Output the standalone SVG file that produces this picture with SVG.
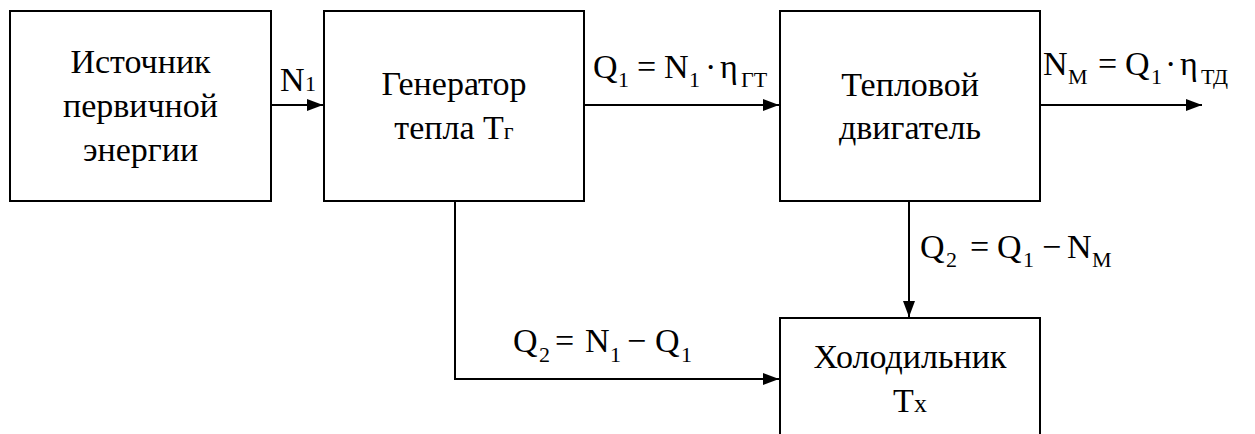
<svg xmlns="http://www.w3.org/2000/svg" width="1255" height="434" viewBox="0 0 1255 434">
<style>
.box{fill:#fff;stroke:#000;stroke-width:2}
.ln{fill:none;stroke:#000;stroke-width:2}
text{font-family:"Liberation Serif","Times New Roman","DejaVu Serif",serif;fill:#000;font-size:34px}
.c{text-anchor:middle}
.s{font-size:22px}
</style>
<defs>
<marker id="ah" viewBox="0 0 16 12" refX="16" refY="6" markerWidth="16" markerHeight="12" markerUnits="userSpaceOnUse" orient="auto">
<path d="M0,0 L16,6 L0,12 z" fill="#000"/>
</marker>
</defs>
<g id="source">
<rect class="box" x="10" y="11" width="261" height="190"/>
<text class="c" x="140.5" y="73">Источник</text>
<text class="c" x="140.5" y="117">первичной</text>
<text class="c" x="140.5" y="161">энергии</text>
</g>
<g id="generator">
<rect class="box" x="324" y="11" width="260" height="190"/>
<text class="c" x="454" y="95">Генератор</text>
<text class="c" x="454" y="139">тепла Т<tspan font-size="24">г</tspan></text>
</g>
<g id="engine">
<rect class="box" x="780" y="11" width="260" height="190"/>
<text class="c" x="910" y="96">Тепловой</text>
<text class="c" x="910" y="139">двигатель</text>
</g>
<g id="cooler">
<rect class="box" x="780" y="318" width="260" height="130"/>
<text class="c" x="910" y="368">Холодильник</text>
<text class="c" x="910" y="412">Т<tspan font-size="26">х</tspan></text>
</g>
<g id="connectors">
<line class="ln" x1="271" y1="105" x2="323" y2="105" marker-end="url(#ah)"/>
<line class="ln" x1="584" y1="105" x2="779" y2="105" marker-end="url(#ah)"/>
<line class="ln" x1="1040" y1="105" x2="1202" y2="105" marker-end="url(#ah)"/>
<line class="ln" x1="909" y1="201" x2="909" y2="317" marker-end="url(#ah)"/>
<polyline class="ln" points="455,201 455,379 779,379" marker-end="url(#ah)"/>
</g>
<g id="labels">
<text><tspan x="280" y="91">N</tspan><tspan x="305" y="91" class="s">1</tspan></text>
<text><tspan x="593" y="78">Q</tspan><tspan x="618" y="87" class="s">1</tspan><tspan x="637" y="78">=</tspan><tspan x="664" y="78">N</tspan><tspan x="689" y="87" class="s">1</tspan><tspan x="705" y="78">·</tspan><tspan x="720" y="78">η</tspan><tspan x="741" y="87" class="s">ГТ</tspan></text>
<text><tspan x="1043" y="75">N</tspan><tspan x="1068" y="84" class="s">М</tspan><tspan x="1098" y="75">=</tspan><tspan x="1125" y="75">Q</tspan><tspan x="1151" y="84" class="s">1</tspan><tspan x="1165" y="75">·</tspan><tspan x="1180" y="75">η</tspan><tspan x="1201" y="84" class="s">ТД</tspan></text>
<text><tspan x="920" y="258">Q</tspan><tspan x="946" y="267" class="s">2</tspan><tspan x="970" y="258">=</tspan><tspan x="997" y="258">Q</tspan><tspan x="1023" y="267" class="s">1</tspan><tspan x="1042" y="258">−</tspan><tspan x="1067" y="258">N</tspan><tspan x="1092" y="267" class="s">М</tspan></text>
<text><tspan x="513" y="352">Q</tspan><tspan x="539" y="362" class="s">2</tspan><tspan x="555" y="352">=</tspan><tspan x="585" y="352">N</tspan><tspan x="610" y="362" class="s">1</tspan><tspan x="627" y="352">−</tspan><tspan x="655" y="352">Q</tspan><tspan x="681" y="362" class="s">1</tspan></text>
</g>
</svg>
